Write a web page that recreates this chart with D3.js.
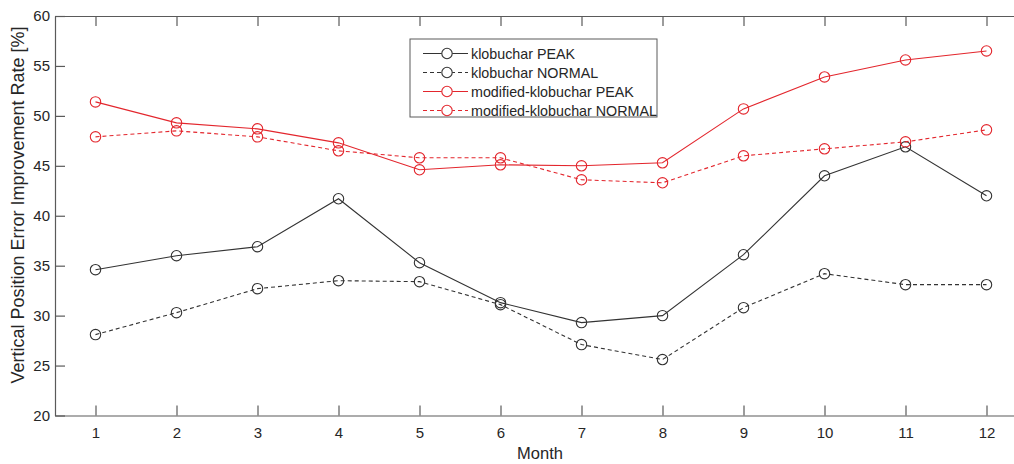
<!DOCTYPE html>
<html>
<head>
<meta charset="utf-8">
<script src="https://cdn.jsdelivr.net/npm/d3@7"></script>
<style>
  body { margin: 0; background: #fff; }
  svg { font-family: "Liberation Sans", Arial, sans-serif; }
</style>
</head>
<body>
<svg id="chart"></svg>
<script>
const width = 1014;
const height = 464;
const margin = { left: 55, top: 16, bottom: 48.5 };

// data
const months = [1, 2, 3, 4, 5, 6, 7, 8, 9, 10, 11, 12];
const klobPeak = [34.6, 36.0, 36.9, 41.7, 35.3, 31.3, 29.3, 30.0, 36.1, 44.0, 46.9, 42.0];
const klobNormal = [28.1, 30.3, 32.7, 33.5, 33.4, 31.1, 27.1, 25.6, 30.8, 34.2, 33.1, 33.1];
const modPeak = [51.4, 49.3, 48.7, 47.3, 44.6, 45.1, 45.0, 45.3, 50.7, 53.9, 55.6, 56.5];
const modNormal = [47.9, 48.5, 47.9, 46.5, 45.8, 45.8, 43.6, 43.3, 46.0, 46.7, 47.4, 48.6];
const yTicks = [20, 25, 30, 35, 40, 45, 50, 55, 60];

const series = [
  { name: 'klobuchar PEAK', values: klobPeak, color: '#333', dash: null },
  { name: 'klobuchar NORMAL', values: klobNormal, color: '#333', dash: '4,3' },
  { name: 'modified-klobuchar PEAK', values: modPeak, color: '#e3262d', dash: null },
  { name: 'modified-klobuchar NORMAL', values: modNormal, color: '#e3262d', dash: '4,3' },
];

const svg = d3.select('#chart').attr('width', width).attr('height', height);

const x = d3.scaleLinear().domain([0.5, 12.5]).range([margin.left, margin.left + 12 * 81]);
const y = d3.scaleLinear().domain([20, 60]).range([height - margin.bottom, margin.top]);

const axisColor = '#5a5a5a';

// axes, ticks pointing inward like matlab
svg.append('g')
  .attr('transform', `translate(0, ${y(20)})`)
  .call(d3.axisBottom(x).tickValues(months).tickSizeInner(-10).tickSizeOuter(0).tickPadding(12));
svg.append('g')
  .attr('transform', `translate(0, ${y(60)})`)
  .call(d3.axisTop(x).tickValues(months).tickSizeInner(-10).tickSizeOuter(0).tickFormat(''));
const yAxis = svg.append('g')
  .attr('transform', `translate(${x(0.5)}, 0)`)
  .call(d3.axisLeft(y).tickValues(yTicks).tickSizeInner(-10).tickSizeOuter(0).tickPadding(15));

svg.selectAll('.domain, .tick line').attr('stroke', axisColor).attr('stroke-width', 1.2);
svg.selectAll('.tick text')
  .attr('fill', '#262626')
  .style('font-size', '15px')
  .style('font-family', '"Liberation Sans", Arial, sans-serif');
yAxis.selectAll('.tick text').attr('x', -5);

svg.append('text')
  .attr('x', 540)
  .attr('y', 459)
  .attr('text-anchor', 'middle')
  .attr('fill', '#262626')
  .style('font-size', '16.5px')
  .text('Month');
svg.append('text')
  .attr('transform', 'rotate(-90)')
  .attr('x', -205)
  .attr('y', 24)
  .attr('text-anchor', 'middle')
  .attr('fill', '#262626')
  .style('font-size', '18px')
  .text('Vertical Position Error Improvement Rate [%]');

// lines + circle markers
const line = d3.line().x((d, i) => x(months[i])).y(d => y(d));

series.forEach(s => {
  const g = svg.append('g');
  g.append('path')
    .datum(s.values)
    .attr('fill', 'none')
    .attr('stroke', s.color)
    .attr('stroke-width', 1.1)
    .attr('stroke-dasharray', s.dash)
    .attr('d', line);
  g.selectAll('circle')
    .data(s.values)
    .enter()
    .append('circle')
      .attr('cx', (d, i) => x(months[i]))
      .attr('cy', d => y(d))
      .attr('r', 5.2)
      .attr('fill', 'none')
      .attr('stroke', s.color)
      .attr('stroke-width', 1.1);
});

// legend
const legend = svg.append('g').attr('transform', 'translate(410, 39)');
legend.append('rect')
  .attr('width', 247)
  .attr('height', 78)
  .attr('fill', '#fff')
  .attr('stroke', axisColor)
  .attr('stroke-width', 1);

const rows = legend.selectAll('g.row')
  .data(series)
  .enter()
  .append('g')
    .classed('row', true)
    .attr('transform', (d, i) => `translate(0, ${14.5 + i * 19})`);
rows.append('line')
  .attr('x1', 13).attr('x2', 58)
  .attr('stroke', d => d.color)
  .attr('stroke-width', 1.1)
  .attr('stroke-dasharray', d => d.dash);
rows.append('circle')
  .attr('cx', 37)
  .attr('r', 5.2)
  .attr('fill', '#fff')
  .attr('stroke', d => d.color)
  .attr('stroke-width', 1.1);
rows.append('text')
  .attr('x', 61)
  .attr('dy', '0.35em')
  .attr('fill', '#262626')
  .style('font-size', '14.3px')
  .text(d => d.name);
</script>
</body>
</html>
